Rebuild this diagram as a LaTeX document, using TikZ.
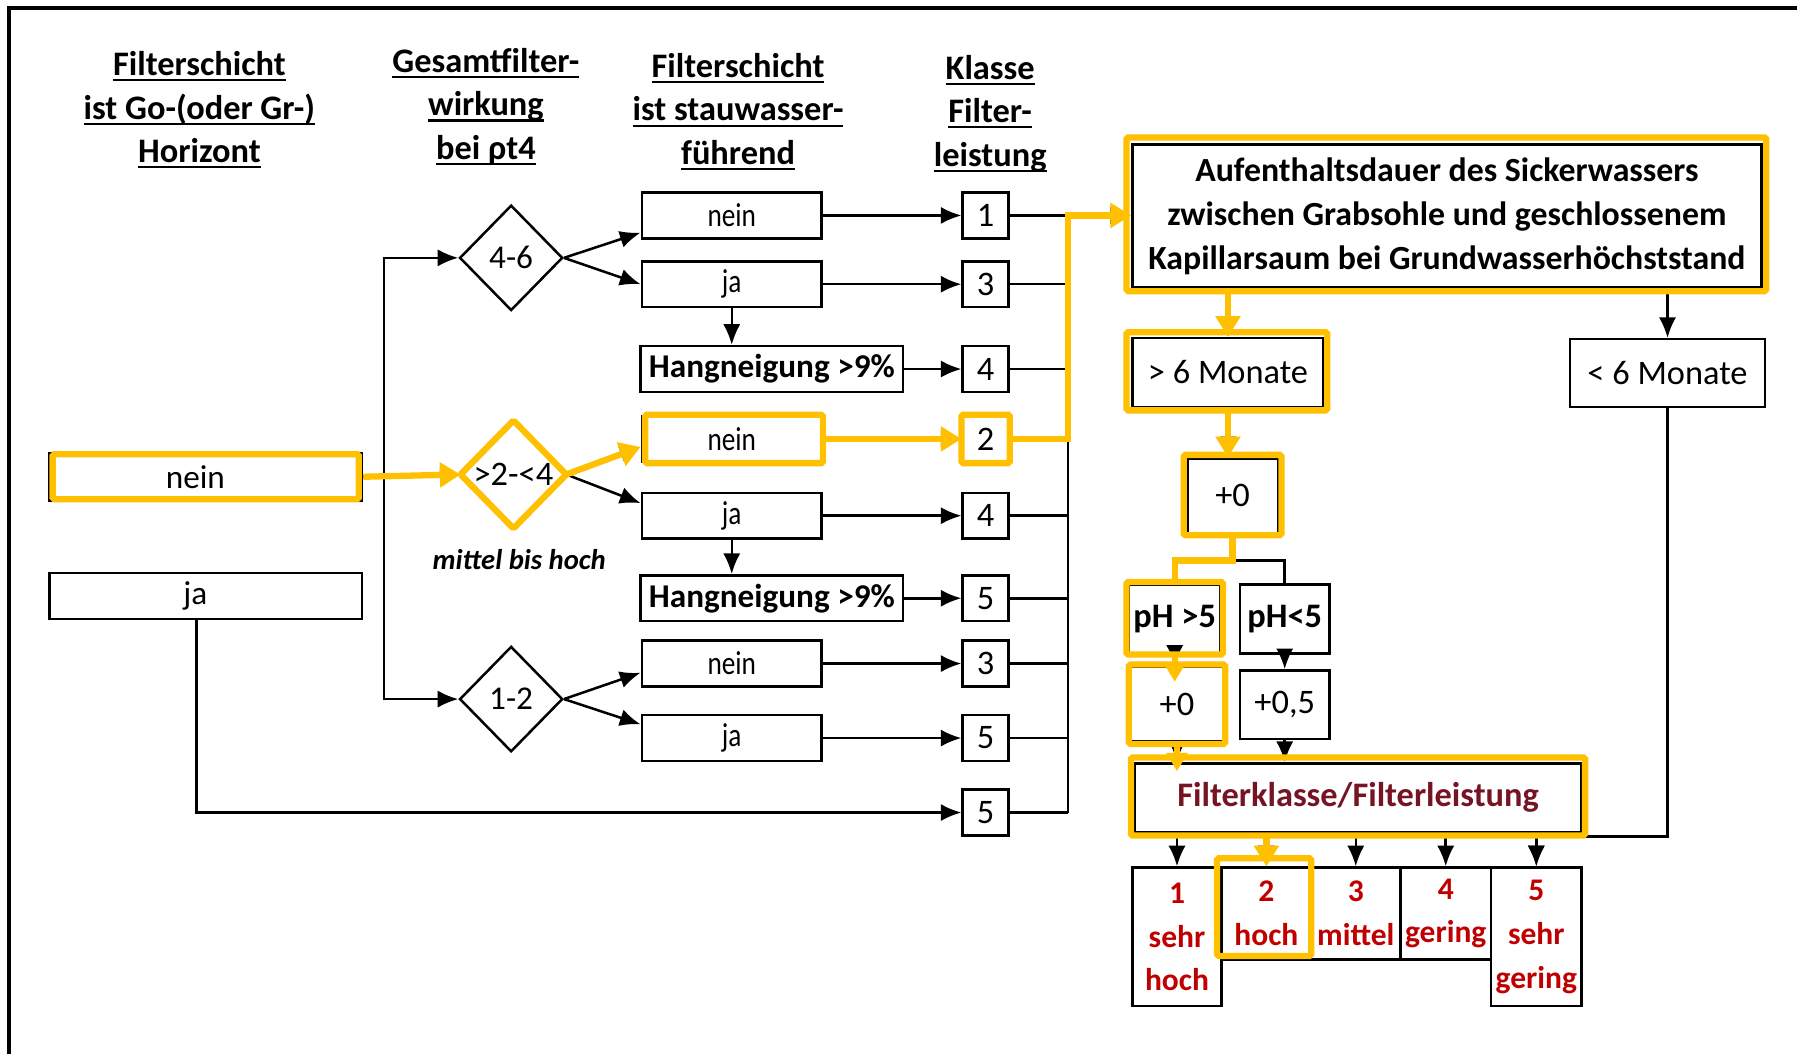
\documentclass[tikz,border=0pt]{standalone}
\usepackage{fontspec}
\usepackage{graphicx}
\setmainfont{Carlito}
\usetikzlibrary{shapes.geometric,arrows.meta,calc}
\definecolor{hlc}{HTML}{FFC000}
\definecolor{redt}{HTML}{C00000}
\definecolor{darkr}{HTML}{761423}
\newcommand\myfs[1]{\fontsize{#1}{38}\selectfont}
\newcommand\myul[1]{\setbox0\hbox{#1}\rlap{\rule[-5pt]{\wd0}{1.8pt}}\box0}
\newcommand\mycond[1]{\scalebox{0.82}[1]{#1}}
\begin{document}
\begin{tikzpicture}[x=1pt,y=-1pt,
  box/.style={draw, line width=2.2pt, fill=white, inner sep=0pt, minimum height=40pt, font=\myfs{29}},
  cbox/.style={box, minimum width=40pt, minimum height=40pt, font=\myfs{30}},
  botbox/.style={box, minimum width=78pt, minimum height=80pt, align=center, text=redt, font=\myfs{27.5}\bfseries},
  dia/.style={diamond, draw, line width=2.2pt, fill=white, inner sep=0pt, minimum width=90pt, minimum height=92pt, font=\myfs{29}},
  head/.style={align=center, inner sep=0pt, font=\myfs{30}\bfseries},
  hl/.style={draw=hlc, line width=5.5pt, rounded corners=1.5pt},
  ln/.style={line width=2.2pt},
  arr/.style={line width=2.2pt, -{Latex[length=18pt,width=15pt]}},
  yln/.style={draw=hlc, line width=5.5pt},
  yarr/.style={draw=hlc, line width=5.5pt, -{Triangle[length=18pt,width=21pt]}},
  ysarr/.style={draw=hlc, line width=5.5pt, -{Triangle[length=16pt,width=18pt]}}
]
\useasboundingbox (0,0) rectangle (1568,920);
\fill[white] (0,0) rectangle (1568,920);
\draw[line width=3pt] (8,920) -- (8,7) -- (1568,7);

% headings
\node[head] (h1) at (174,96) {\myul{Filterschicht}\\\myul{ist Go-(oder Gr-)}\\\myul{Horizont}};
\node[head] (h2) at (424,93) {\myul{Gesamtfilter-}\\\myul{wirkung}\\\myul{bei ρt4}};
\node[head] (h3) at (644,97.5) {\myul{Filterschicht}\\\myul{ist stauwasser-}\\\myul{führend}};
\node[head] (h4) at (864,99) {\myul{Klasse}\\\myul{Filter-}\\\myul{leistung}};

% left column
\node[box, minimum width=273pt, minimum height=41pt] (lnein) at (179.5,416) {\hspace*{-18pt}nein};
\node[box, minimum width=273pt] (lja) at (179.5,520) {\hspace*{-18pt}ja};

% diamonds
\node[dia] (d1) at (446,225) {4-6};
\node[dia, font=\myfs{30}] (d2) at (448,414) {>2-<4};
\node[dia] (d3) at (446,610) {1-2};
\node[inner sep=0pt, font=\myfs{25}\bfseries\itshape] (mbh) at (453,488) {mittel bis hoch};

% column 3
\node[box, minimum width=157pt] (n1) at (638.5,188) {\mycond{nein}};
\node[box, minimum width=157pt] (j1) at (638.5,248) {\mycond{ja}};
\node[box, minimum width=229pt, font=\myfs{29}\bfseries] (g1) at (673.5,322) {Hangneigung >9\%};
\node[box, minimum width=157pt] (n2) at (638.5,383) {\mycond{nein}};
\node[box, minimum width=157pt] (j2) at (638.5,450) {\mycond{ja}};
\node[box, minimum width=229pt, font=\myfs{29}\bfseries] (g2) at (673.5,522) {Hangneigung >9\%};
\node[box, minimum width=157pt] (n3) at (638.5,579) {\mycond{nein}};
\node[box, minimum width=157pt] (j3) at (638.5,644) {\mycond{ja}};

% class column
\node[cbox] (c1) at (860,188) {1};
\node[cbox] (c2) at (860,248) {3};
\node[cbox] (c3) at (860,322) {4};
\node[cbox] (c4) at (860,383) {2};
\node[cbox] (c5) at (860,450) {4};
\node[cbox] (c6) at (860,522) {5};
\node[cbox] (c7) at (860,579) {3};
\node[cbox] (c8) at (860,644) {5};
\node[cbox] (c9) at (860,709) {5};

% right part
\node[box, minimum width=549pt, minimum height=125pt, align=center, font=\fontsize{29.5}{38.5}\selectfont\bfseries] (A) at (1262.5,188.5)
  {Aufenthaltsdauer des Sickerwassers\\zwischen Grabsohle und geschlossenem\\Kapillarsaum bei Grundwasserhöchststand};
\node[box, minimum width=167pt, minimum height=60pt, font=\myfs{30}] (M1) at (1071.5,325) {> 6 Monate};
\node[box, minimum width=170pt, minimum height=59pt, font=\myfs{30}] (M2) at (1455,325.5) {< 6 Monate};
\node[box, minimum width=79pt, minimum height=65pt, font=\myfs{30}] (P0) at (1075.5,432.5) {+0};
\node[box, minimum width=80pt, minimum height=60pt, font=\myfs{30}\bfseries] (PG) at (1025,540) {pH >5};
\node[box, minimum width=78pt, minimum height=60pt, font=\myfs{30}\bfseries] (PL) at (1121,540) {pH<5};
\node[box, minimum width=80pt, minimum height=65pt, font=\myfs{30}] (Q0) at (1027,614.5) {+0};
\node[box, minimum width=78pt, minimum height=60pt, font=\myfs{30}] (Q5) at (1121,615) {+0,5};
\node[box, minimum width=390pt, minimum height=60pt, text=darkr, font=\myfs{30}\bfseries] (F) at (1185,696) {Filterklasse/Filterleistung};
\node[botbox, minimum height=121pt] (b1) at (1027,817.5) {1\\sehr\\hoch};
\node[botbox] (b2) at (1105,797) {2\\hoch};
\node[botbox] (b3) at (1183,797) {3\\mittel};
\node[botbox, minimum width=79pt] (b4) at (1261.5,797) {4\\gering};
\node[botbox, minimum width=79pt, minimum height=121pt] (b5) at (1340.5,817.5) {5\\sehr\\gering};

% black connectors
\coordinate (vx) at (335,0);
\coordinate (bus) at (932,0);
\draw[arr] (lnein.east) -- (d2.west);
\draw[arr] (lnein.east -| vx) |- (d1.west);
\draw[arr] (lnein.east -| vx) |- (d3.west);
\draw[arr] (d1.east) -- ($(n1.west)+(0,15)$);
\draw[arr] (d1.east) -- (j1.west);
\draw[arr] (d2.east) -- ($(n2.west)+(0,7)$);
\draw[arr] (d2.east) -- ($(j2.west)+(0,-11)$);
\draw[arr] (d3.east) -- ($(n3.west)+(0,8)$);
\draw[arr] (d3.east) -- ($(j3.west)+(0,-12)$);
\draw[arr] (j1.south) -- (j1.south |- g1.north);
\draw[arr] (j2.south) -- (j2.south |- g2.north);
\draw[arr] (n1.east) -- (c1.west);
\draw[arr] (j1.east) -- (c2.west);
\draw[arr] (g1.east) -- (c3.west);
\draw[arr] (n2.east) -- (c4.west);
\draw[arr] (j2.east) -- (c5.west);
\draw[arr] (g2.east) -- (c6.west);
\draw[arr] (n3.east) -- (c7.west);
\draw[arr] (j3.east) -- (c8.west);
\draw[arr] ($(lja.south)+(-8,0)$) |- (c9.west);
\foreach \c in {c1,c2,c3,c4,c5,c6,c7,c8,c9} {\draw[ln] (\c.east) -- (\c.east -| bus);}
\draw[ln] (c1.east -| bus) -- (c9.east -| bus);
\draw[arr] (c1.east -| bus) -- (c1.east -| A.west);
\draw[arr] (A.south -| M1.north) -- (M1.north);
\draw[arr] (A.south -| M2.north) -- (M2.north);
\draw[arr] (M1.south) -- (M1.south |- P0.north);
\draw[ln] (P0.south) -- ++(0,23) coordinate (sp);
\draw[ln] (PG.north) |- (sp) -| (PL.north);
\draw[arr] (PG.south) -- (PG.south |- Q0.north);
\draw[arr] (PL.south) -- (PL.south |- Q5.north);
\draw[arr] (Q0.south) -- (Q0.south |- F.north);
\draw[arr] (Q5.south) -- (Q5.south |- F.north);
\foreach \b in {b1,b2,b3,b4,b5} {\draw[arr] (F.south -| \b.north) -- (\b.north);}
\draw[arr] (M2.south) |- ($(b5.north)+(0,-26)$) -- (b5.north);

% yellow highlights
\draw[hl] ([shift={(4,2)}]lnein.north west) rectangle ([shift={(-4,-2)}]lnein.south east);
\draw[hl] (d2.north) -- (d2.east) -- (d2.south) -- (d2.west) -- cycle;
\draw[hl] ([shift={(4,0)}]n2.north west) rectangle (n2.south east);
\draw[hl] (c4.north west) rectangle (c4.south east);
\draw[hl] ([shift={(-4,-5)}]A.north west) rectangle ([shift={(3,2)}]A.south east);
\draw[hl] ([shift={(-4,-4)}]M1.north west) rectangle ([shift={(2,2)}]M1.south east);
\draw[hl] ([shift={(-2,-2)}]P0.north west) rectangle ([shift={(2,1)}]P0.south east);
\draw[hl] ([shift={(-1,-1)}]PG.north west) rectangle ([shift={(1,0)}]PG.south east);
\draw[hl] ([shift={(-1,-1)}]Q0.north west) rectangle ([shift={(1,1)}]Q0.south east);
\draw[hl] ([shift={(-2,-4)}]F.north west) rectangle ([shift={(2,2)}]F.south east);
\draw[hl] ([shift={(-3,-7)}]b2.north west) rectangle ([shift={(-1,-4)}]b2.south east);

% yellow path
\draw[yarr] (lnein.east) -- (d2.west);
\draw[yarr] (d2.east) -- ($(n2.west)+(0,7)$);
\draw[yarr] (n2.east) -- (c4.west);
\draw[yarr] (c4.east) -- (c4.east -| bus) -- (c1.east -| bus) -- (c1.east -| A.west);
\draw[yarr] (A.south -| M1.north) -- (M1.north);
\draw[yarr] (M1.south) -- (M1.south |- P0.north);
\draw[yln] (P0.south) -- (sp) -| (PG.north);
\draw[ysarr] (PG.south) -- ($(PG.south |- Q0.north)+(0,14)$);
\draw[ysarr] (Q0.south) -- ($(Q0.south |- F.north)+(0,8)$);
\draw[yarr] (F.south -| b2.north) -- (b2.north);
\end{tikzpicture}
\end{document}
